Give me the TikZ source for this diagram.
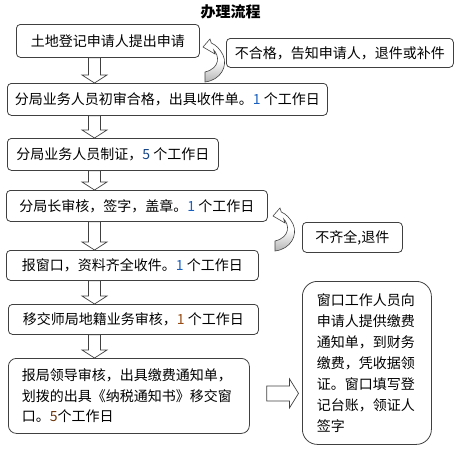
\documentclass[tikz,border=0pt]{standalone}
\usepackage{fontspec}
\setmainfont{Noto Sans CJK SC}
\usepackage{xcolor}
\usetikzlibrary{calc}

\definecolor{edgegray}{RGB}{64,64,64}
\definecolor{bendgray}{RGB}{180,180,180}
\definecolor{numblue}{RGB}{25,95,190}
\definecolor{numbrown}{RGB}{150,75,20}

\begin{document}
\begin{tikzpicture}[
    x=1pt, y=-1pt,
    stepbox/.style={draw=edgegray, line width=0.8pt, rounded corners=4pt, anchor=north west, inner sep=0pt, align=center, font=\fontsize{14}{21}\selectfont},
    notebox/.style={stepbox, align=left, rounded corners=8pt},
    blockarrow/.style={draw=edgegray, fill=white, line width=0.7pt, line join=miter},
    bendarrow/.style={top color=white, bottom color=bendgray, middle color=white, draw=edgegray, line width=0.6pt, line join=miter}
]
    \useasboundingbox (0,0) rectangle (462,469);

    \node[font=\bfseries\fontsize{15}{18}\selectfont] (title) at (230.5,12) {办理流程};

    % main chain
    \node[stepbox, minimum width=183pt, minimum height=33pt] (apply) at (16,24) {土地登记申请人提出申请};
    \node[stepbox, minimum width=320pt, minimum height=32pt] (firstcheck) at (7,83) {分局业务人员初审合格，出具收件单。{\color{numblue}1} 个工作日};
    \node[stepbox, minimum width=211pt, minimum height=32pt] (makecert) at (7,138) {分局业务人员制证，{\color{numblue!70!black}5} 个工作日};
    \node[stepbox, minimum width=261pt, minimum height=31pt] (chiefsign) at (6,190) {分局长审核，签字，盖章。{\color{numblue}1} 个工作日};
    \node[stepbox, minimum width=252pt, minimum height=30pt] (window) at (6,250) {报窗口，资料齐全收件。{\color{numblue}1} 个工作日};
    \node[stepbox, minimum width=250pt, minimum height=30pt] (transfer) at (8,304) {移交师局地籍业务审核，{\color{numbrown}1} 个工作日};
    \node[notebox, minimum width=241pt, minimum height=75pt, text width=214pt, font=\fontsize{14}{20.5}\selectfont] (leader) at (8,358)
        {报局领导审核，出具缴费通知单，\\划拨的出具《纳税通知书》移交窗\\口。{\color{numbrown!70!black}5}个工作日};
    \node[notebox, rounded corners=15pt, minimum width=129pt, minimum height=163pt, text width=100pt] (collect) at (302,281)
        {窗口工作人员向\\申请人提供缴费\\通知单，到财务\\缴费，凭收据领\\证。窗口填写登\\记台账，领证人\\签字};

    % side notes
    \node[stepbox, minimum width=227pt, minimum height=29pt] (reject) at (226,38) {不合格，告知申请人，退件或补件};
    \node[stepbox, minimum width=100pt, minimum height=30pt] (incomplete) at (302,222) {不齐全,退件};

    % down arrows
    \coordinate (axis) at (94.5,0);
    \foreach \a/\b in {apply/firstcheck, firstcheck/makecert, makecert/chiefsign, chiefsign/window, window/transfer, transfer/leader} {
        \coordinate (top) at (\a.south -| axis);
        \coordinate (tip) at (\b.north -| axis);
        \draw[blockarrow] ($(top)+(-6,0)$) -- ($(tip)+(-6,-8)$) -- ($(tip)+(-12.5,-8)$) -- (tip)
            -- ($(tip)+(12.5,-8)$) -- ($(tip)+(6,-8)$) -- ($(top)+(6,0)$) -- cycle;
    }

    % right arrow to the window
    \path (leader.east) ++(17,-2.5) coordinate (rtail);
    \path (collect.west |- rtail) ++(-3.5,0) coordinate (rtip);
    \draw[blockarrow] ($(rtail)+(0,-7.5)$) -- ($(rtip)+(-9,-7.5)$) -- ($(rtip)+(-9,-14.5)$) -- (rtip)
        -- ($(rtip)+(-9,14.5)$) -- ($(rtip)+(-9,7.5)$) -- ($(rtail)+(0,7.5)$) -- cycle;

    % return arrows
    \foreach \p in {(205,82), (275,251)} {
        \shadedraw[bendarrow, shift={\p}]
            (0,0) .. controls (16,-2) and (23,-16) .. (18,-27)
            .. controls (15,-33) and (11,-37) .. (6.3,-39)
            -- (5,-43) -- (-2,-35) -- (10,-28) -- (8.7,-32)
            .. controls (14,-27) and (16,-14) .. (0,-10) -- cycle;
    }
\end{tikzpicture}
\end{document}
